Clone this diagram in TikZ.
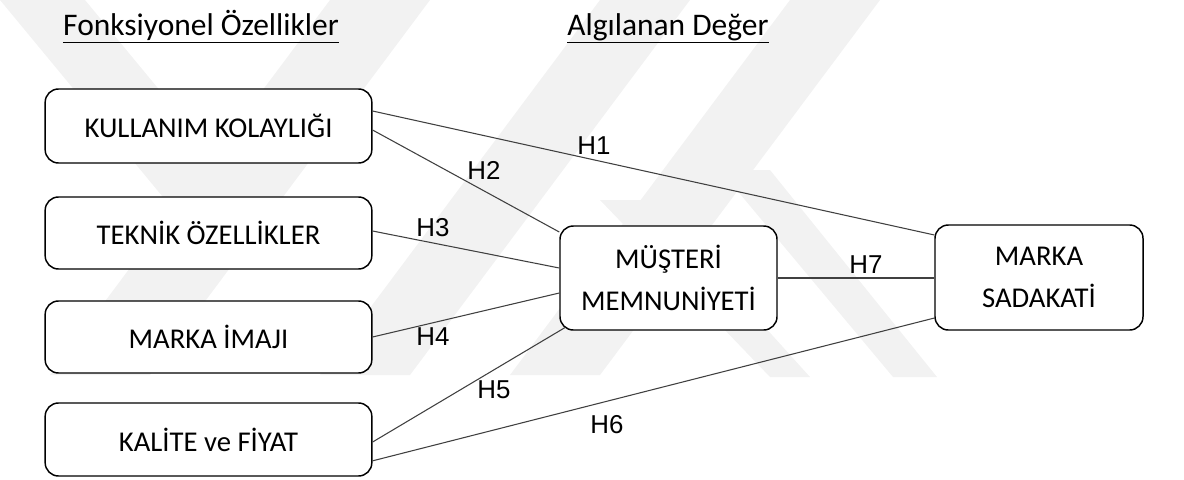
\documentclass[tikz,border=0pt]{standalone}
\usepackage{fontspec}
\setmainfont{Carlito}
\newfontfamily\hfont{Liberation Sans}
\usetikzlibrary{calc}
\begin{document}
\begin{tikzpicture}[x=0.75pt,y=-0.75pt,
  box/.style={draw=black,line width=1.1pt,rounded corners=10pt,align=center,
    font=\fontsize{21.5}{31.5}\selectfont,inner sep=0pt,fill=white},
  conn/.style={draw=black!75,line width=0.8pt},
  hlab/.style={font=\hfont\fontsize{19.4}{22}\selectfont,inner sep=0pt},
  head/.style={font=\fontsize{23.6}{28}\selectfont,inner sep=0pt,anchor=base},
  wm/.style={fill=black!5,draw=none}]
\useasboundingbox (0,0) rectangle (1184,479);
% faint background watermark
\fill[wm] (0,0) -- (85,0) -- (300,260) -- (215,260) -- cycle;
\fill[wm] (330,0) -- (430,0) -- (150,375) -- (50,375) -- cycle;
\fill[wm] (600,0) -- (690,0) -- (410,375) -- (320,375) -- cycle;
\fill[wm] (790,0) -- (880,0) -- (600,375) -- (510,375) -- cycle;
\fill[wm] (600,200) -- (650,200) -- (810,377) -- (770,377) -- cycle;
\fill[wm] (720,170) -- (770,170) -- (937,377) -- (893,377) -- cycle;
% headings
\node[head] (hf) at (201,35) {Fonksiyonel Özellikler};
\node[head] (ha) at (668,35) {Algılanan Değer};
\draw[line width=0.9pt] ([yshift=-5.5pt]hf.base west) -- ([yshift=-5.5pt]hf.base east);
\draw[line width=0.9pt] ([yshift=-5.5pt]ha.base west) -- ([yshift=-5.5pt]ha.base east);
% boxes
\node[box,minimum width=245pt,minimum height=55.5pt] (kul) at (208.5,126) {KULLANIM KOLAYLIĞI};
\node[box,minimum width=245pt,minimum height=54pt] (tek) at (208.5,233) {TEKNİK ÖZELLİKLER};
\node[box,minimum width=245pt,minimum height=54pt] (mi) at (208.5,337) {MARKA İMAJI};
\node[box,minimum width=245pt,minimum height=54.75pt] (kal) at (208.5,439.5) {KALİTE ve FİYAT};
\node[box,minimum width=162.75pt,minimum height=78pt] (mus) at (668.5,278) {MÜŞTERİ\\MEMNUNİYETİ};
\node[box,minimum width=156pt,minimum height=78.75pt] (ms) at (1039,277.5) {MARKA\\SADAKATİ};
% connectors
\draw[conn] ([yshift=11.25pt]kul.east) -- ([yshift=31.9pt]ms.west);
\draw[conn] ([yshift=-3pt]kul.east) -- ([yshift=34.5pt]mus.west);
\draw[conn] ([yshift=1.5pt]tek.east) -- ([yshift=7.5pt]mus.west);
\draw[conn] (mi.east) -- ([yshift=-11.25pt]mus.west);
\draw[conn] ([yshift=-1.9pt]kal.east) -- ([xshift=4.5pt,yshift=2.5pt]mus.south west);
\draw[conn] ([yshift=-16pt]kal.east) -- ([yshift=-30.4pt]ms.west);
\draw[conn] (mus.east) -- (mus.east -| ms.west);
% labels
\node[hlab] (h1) at (594,146) {H1};
\node[hlab] (h2) at (484,170) {H2};
\node[hlab] (h3) at (433,228) {H3};
\node[hlab] (h4) at (433,337) {H4};
\node[hlab] (h5) at (494,390) {H5};
\node[hlab] (h6) at (607,425) {H6};
\node[hlab] (h7) at (866,265) {H7};
\end{tikzpicture}
\end{document}
